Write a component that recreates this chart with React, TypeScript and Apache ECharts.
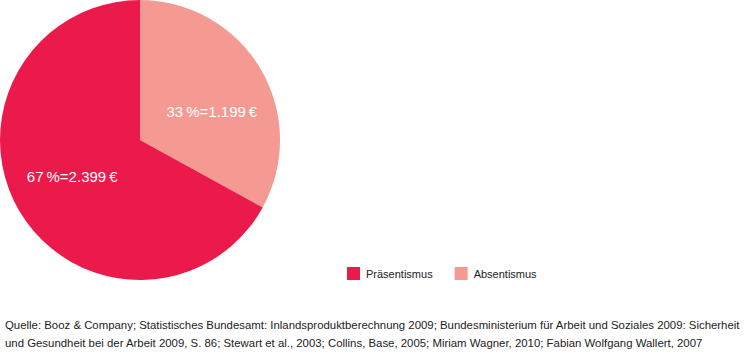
import React, { useEffect, useRef } from "react";
import * as echarts from "echarts";

const categories = ["Absentismus", "Präsentismus"];
const percentValues = [33, 67];
const euroLabels = ["1.199", "2.399"];
const legendOrder = ["Präsentismus", "Absentismus"];
const colors = ["#F49A92", "#EC1A4B"];
const sourceLines = [
  "Quelle: Booz & Company; Statistisches Bundesamt: Inlandsproduktberechnung 2009; Bundesministerium für Arbeit und Soziales 2009: Sicherheit",
  "und Gesundheit bei der Arbeit 2009, S. 86; Stewart et al., 2003; Collins, Base, 2005; Miriam Wagner, 2010; Fabian Wolfgang Wallert, 2007",
];

const labelOffsets = [
  [9, 9],
  [-5, -1],
];

export default function App() {
  const ref = useRef<HTMLDivElement>(null);
  useEffect(() => {
    if (!ref.current) return;
    const chart = echarts.init(ref.current, null, { renderer: "svg" });
    const font = "'Liberation Sans', Arial, Helvetica, sans-serif";
    chart.setOption({
      animation: false,
      color: colors,
      textStyle: { fontFamily: font },
      title: {
        text: sourceLines.join("\n"),
        left: 5,
        top: 316,
        padding: 0,
        textStyle: {
          fontFamily: font,
          fontSize: 11.4,
          fontWeight: "normal",
          color: "#222",
          lineHeight: 18,
        },
      },
      legend: {
        data: legendOrder,
        left: 347,
        top: 267,
        itemWidth: 13,
        itemHeight: 13,
        itemGap: 22,
        icon: "rect",
        padding: 0,
        textStyle: { fontFamily: font, fontSize: 11, color: "#222", padding: [0, 0, 0, 1] },
      },
      series: [
        {
          type: "pie",
          center: [140, 140],
          radius: 140,
          startAngle: 90,
          clockwise: true,
          avoidLabelOverlap: false,
          emphasis: { disabled: true },
          data: categories.map((c, i) => ({
            name: c,
            value: percentValues[i],
            itemStyle: { color: colors[i] },
            label: {
              show: true,
              position: "inside",
              offset: labelOffsets[i],
              formatter: `${percentValues[i]}\u2009%=${euroLabels[i]}\u2009€`,
              color: "#fff",
              fontSize: 15,
              fontFamily: font,
            },
          })),
          labelLine: { show: false },
          itemStyle: { borderWidth: 0 },
        },
      ],
    });
    return () => chart.dispose();
  }, []);
  return (
    <div
      ref={ref}
      style={{ position: "fixed", left: 0, top: 0, width: 746, height: 359, background: "#fff" }}
    />
  );
}
